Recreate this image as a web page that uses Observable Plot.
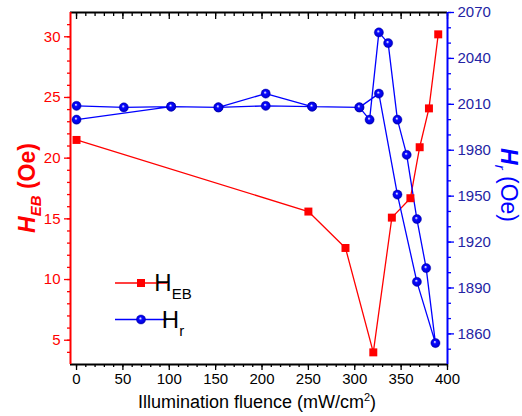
<!DOCTYPE html>
<html>
<head>
<meta charset="utf-8">
<script src="https://cdn.jsdelivr.net/npm/d3@7"></script>
<script src="https://cdn.jsdelivr.net/npm/@observablehq/plot@0.6"></script>
<style>
  html, body { margin: 0; padding: 0; background: #fff; }
  #chart svg { display: block; }
</style>
</head>
<body>
<div id="chart"></div>
<script>
// Exchange-bias field H_EB (left axis) and resonance field H_r (right axis)
// versus illumination fluence.

// H_EB series
const hebFluence = [0, 250, 290, 320, 340, 360, 370, 380, 390];
const hebValue   = [21.5, 15.6, 12.6, 4.0, 15.1, 16.7, 20.9, 24.1, 30.2];

// H_r series: traced up in fluence, then back down
const hrFluence = [0, 51, 102, 153, 204, 254, 305, 316, 326, 336, 346, 356, 367, 377, 387,
                   367, 346, 326, 305, 254, 204, 153, 102, 0];
const hrValue   = [2009, 2008, 2008.5, 2008, 2017, 2008.5, 2008, 2000, 2057, 2050, 2000, 1977, 1935, 1903, 1854,
                   1894, 1951, 2017, 2008, 2008.5, 2009, 2008, 2008.5, 2000];

// axis extents and ticks
const xDomain = [-6.5, 400];
const hebDomain = [3, 32];
const hrDomain = [1840, 2070];
const xMajor = d3.range(0, 401, 50);
const xMinor = d3.range(0, 401, 10);
const hebMajor = d3.range(5, 31, 5);
const hebMinor = d3.range(4, 32, 1);
const hrMajor = d3.range(1860, 2071, 30);
const hrMinor = d3.range(1850, 2071, 10);

const RED = "#ff0000";
const BLUE = "#0000ff";

// H_r is drawn on the shared y scale through this linear map
const hrToY = d3.scaleLinear().domain(hrDomain).range(hebDomain);

const heb = hebFluence.map((f, i) => ({fluence: f, value: hebValue[i]}));
const hr = hrFluence.map((f, i) => ({fluence: f, value: hrValue[i], y: hrToY(hrValue[i])}));

const chart = Plot.plot({
  width: 522,
  height: 416,
  marginLeft: 70,
  marginRight: 75,
  marginTop: 12,
  marginBottom: 52,
  style: {fontFamily: "'Liberation Sans', Arial, sans-serif", fontSize: "15px", background: "#fff"},
  x: {domain: xDomain, axis: null},
  y: {domain: hebDomain, axis: null},
  marks: [
    // bottom axis (outward ticks)
    Plot.axisX({anchor: "bottom", ticks: xMajor, tickSize: 6, tickPadding: 3, label: null, color: "#000", strokeWidth: 1.3}),
    Plot.axisX({anchor: "bottom", ticks: xMinor, tickSize: 3, text: null, label: null, color: "#000", strokeWidth: 1.3}),
    // top mirror ticks (pointing into the frame)
    Plot.axisX({anchor: "top", ticks: xMajor, tickSize: 6, dy: 6, text: null, label: null, color: "#000", strokeWidth: 1.3}),
    Plot.axisX({anchor: "top", ticks: xMinor, tickSize: 3, dy: 3, text: null, label: null, color: "#000", strokeWidth: 1.3}),
    // left axis: H_EB
    Plot.axisY({anchor: "left", ticks: hebMajor, tickSize: 6, tickPadding: 4, label: null, color: RED, strokeWidth: 1.3}),
    Plot.axisY({anchor: "left", ticks: hebMinor, tickSize: 3, text: null, label: null, color: RED, strokeWidth: 1.3}),
    // right axis: H_r
    Plot.axisY(hrMajor.map(v => hrToY(v)), {
      anchor: "right", tickSize: 6, tickPadding: 4, label: null,
      stroke: BLUE, fill: "#2424a4", strokeWidth: 1.3,
      tickFormat: v => String(Math.round(hrToY.invert(v)))
    }),
    Plot.axisY(hrMinor.map(v => hrToY(v)), {anchor: "right", tickSize: 3, text: null, label: null, stroke: BLUE, strokeWidth: 1.3}),
    // frame edges
    Plot.ruleY([hebDomain[0]], {stroke: "#000", strokeWidth: 1.8}),
    Plot.ruleY([hebDomain[1]], {stroke: "#000", strokeWidth: 1.8}),
    Plot.ruleX([xDomain[0]], {stroke: RED, strokeWidth: 2}),
    Plot.ruleX([xDomain[1]], {stroke: BLUE, strokeWidth: 2}),
    // data
    Plot.line(heb, {x: "fluence", y: "value", stroke: RED, strokeWidth: 1.3}),
    Plot.line(hr, {x: "fluence", y: "y", stroke: BLUE, strokeWidth: 1.3}),
    Plot.dot(heb, {x: "fluence", y: "value", symbol: "square", r: 4.5, fill: RED, stroke: "none"}),
    Plot.dot(hr, {x: "fluence", y: "y", r: 4.6, fill: "url(#hrSphere)", stroke: "#0000b4", strokeWidth: 0.4})
  ]
});

document.getElementById("chart").appendChild(chart);

const svg = d3.select(chart);

// shaded sphere used for the H_r markers
const grad = svg.insert("defs", ":first-child")
  .append("radialGradient")
  .attr("id", "hrSphere")
  .attr("cx", "0.5").attr("cy", "0.5").attr("r", "0.55")
  .attr("fx", "0.42").attr("fy", "0.36");
grad.append("stop").attr("offset", "0").attr("stop-color", "#ffffff");
grad.append("stop").attr("offset", "0.12").attr("stop-color", "#b0b0ff");
grad.append("stop").attr("offset", "0.32").attr("stop-color", "#0a0aff");
grad.append("stop").attr("offset", "0.75").attr("stop-color", "#0000e0");
grad.append("stop").attr("offset", "1").attr("stop-color", "#00009c");

const font = "'Liberation Sans', Arial, sans-serif";

// axis titles
const xTitle = svg.append("text")
  .attr("x", 257).attr("y", 408)
  .attr("text-anchor", "middle")
  .attr("font-family", font).attr("font-size", 18).attr("fill", "#000");
xTitle.append("tspan").text("Illumination fluence (mW/cm");
xTitle.append("tspan").attr("font-size", 11).attr("dy", -7).text("2");
xTitle.append("tspan").attr("dy", 7).text(")");

const leftTitle = svg.append("text")
  .attr("transform", "translate(35,188) rotate(-90)")
  .attr("text-anchor", "middle")
  .attr("font-family", font).attr("font-weight", "bold").attr("fill", RED).attr("font-size", 23);
leftTitle.append("tspan").attr("font-style", "italic").text("H");
leftTitle.append("tspan").attr("font-style", "italic").attr("font-size", 15).attr("dy", 6).text("EB");
leftTitle.append("tspan").attr("dy", -6).text(" (Oe)");

const rightTitle = svg.append("text")
  .attr("transform", "translate(501,185) rotate(90)")
  .attr("text-anchor", "middle")
  .attr("font-family", font).attr("fill", BLUE).attr("font-size", 23);
rightTitle.append("tspan").attr("font-style", "italic").attr("font-weight", "bold").text("H");
rightTitle.append("tspan").attr("font-style", "italic").attr("font-size", 15).attr("dy", 6).text("r");
rightTitle.append("tspan").attr("dy", -6).text(" (Oe)");

// legend
const legend = svg.append("g").attr("font-family", font).attr("fill", "#000");
const items = [
  {y: 283, color: RED, main: "H", sub: "EB", square: true},
  {y: 319.5, color: BLUE, main: "H", sub: "r", square: false}
];
for (const it of items) {
  legend.append("line")
    .attr("x1", 115).attr("x2", 167).attr("y1", it.y).attr("y2", it.y)
    .attr("stroke", it.color).attr("stroke-width", 1.3);
  if (it.square) {
    legend.append("rect").attr("x", 137).attr("y", it.y - 4).attr("width", 8).attr("height", 8).attr("fill", RED);
  } else {
    legend.append("circle").attr("cx", 141).attr("cy", it.y).attr("r", 4.6)
      .attr("fill", "url(#hrSphere)").attr("stroke", "#0000b4").attr("stroke-width", 0.4);
  }
  const t = legend.append("text").attr("x", 173).attr("y", it.y + 8).attr("font-size", 24);
  t.append("tspan").text(it.main);
  t.append("tspan").attr("font-size", 15).attr("dy", 8).text(it.sub);
}
</script>
</body>
</html>
